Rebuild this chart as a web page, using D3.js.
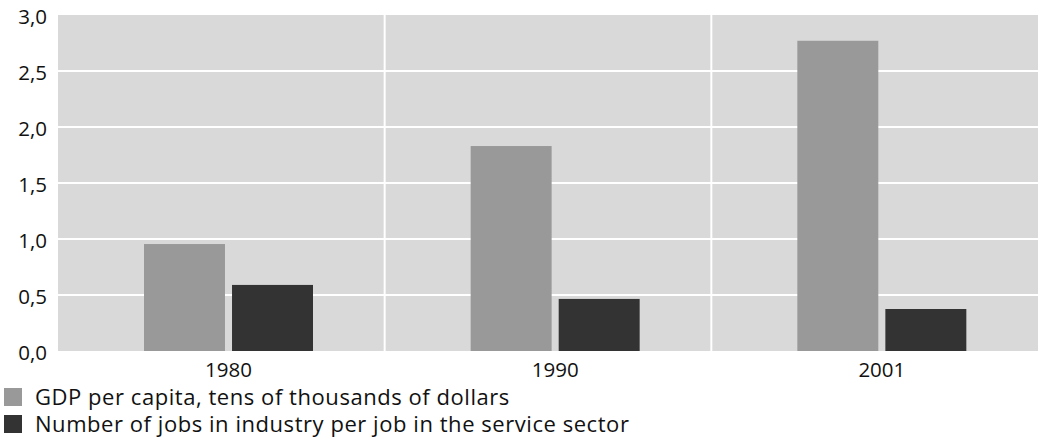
<!DOCTYPE html>
<html>
<head>
<meta charset="utf-8">
<script src="https://cdn.jsdelivr.net/npm/d3@7"></script>
<style>
  body { margin: 0; background: #fff; }
  text { font-family: "Open Sans", sans-serif; fill: #111; }
</style>
</head>
<body>
<svg width="1038" height="438"></svg>
<script>
const years = ["1980", "1990", "2001"];
const seriesNames = ["GDP per capita, tens of thousands of dollars",
                     "Number of jobs in industry per job in the service sector"];
const gdp = [0.955, 1.83, 2.77];
const jobs = [0.59, 0.465, 0.375];
const yTicks = [0, 0.5, 1, 1.5, 2, 2.5, 3];
const colors = ["#999999", "#333333"];

const svg = d3.select("svg");
const margin = { left: 58, right: 0, top: 15, bottom: 87 };
const width = +svg.attr("width");
const height = +svg.attr("height");
const plotW = width - margin.left - margin.right;
const plotH = height - margin.top - margin.bottom;

const g = svg.append("g").attr("transform", `translate(${margin.left},${margin.top})`);

const x0 = d3.scaleBand().domain(years).range([0, plotW]);
// bars sit a bit right of band centre in the original
const x1 = d3.scaleBand().domain([0, 1]).range([86, 255]).paddingInner(0.08);
const y = d3.scaleLinear().domain([0, 3]).range([plotH, 0]);

g.append("rect").attr("width", plotW).attr("height", plotH).attr("fill", "#d9d9d9");

// grid
g.selectAll(".hgrid").data(yTicks.slice(1, -1)).enter().append("line")
  .attr("x1", 0).attr("x2", plotW)
  .attr("y1", d => y(d)).attr("y2", d => y(d))
  .attr("stroke", "#fff").attr("stroke-width", 2);
g.selectAll(".vgrid").data(years.slice(1)).enter().append("line")
  .attr("x1", d => x0(d)).attr("x2", d => x0(d))
  .attr("y1", 0).attr("y2", plotH)
  .attr("stroke", "#fff").attr("stroke-width", 2);

// bars
const rows = years.map((yr, i) => ({ year: yr, vals: [gdp[i], jobs[i]] }));
const grp = g.selectAll(".grp").data(rows).enter().append("g")
  .attr("transform", d => `translate(${x0(d.year)},0)`);
grp.selectAll("rect").data(d => d.vals).enter().append("rect")
  .attr("x", (d, i) => x1(i))
  .attr("width", x1.bandwidth())
  .attr("y", d => y(d))
  .attr("height", d => plotH - y(d))
  .attr("fill", (d, i) => colors[i]);

// x labels centred on the bar group
grp.append("text")
  .attr("x", (x1(0) + x1(1) + x1.bandwidth()) / 2)
  .attr("y", plotH + 26)
  .attr("text-anchor", "middle")
  .attr("font-size", 20.5)
  .text(d => d.year);

// y axis labels
const fmt = d3.formatLocale({ decimal: ",", thousands: " ", grouping: [3], currency: ["", ""] }).format(".1f");
g.selectAll(".ylab").data(yTicks).enter().append("text")
  .attr("x", -11)
  .attr("y", d => y(d))
  .attr("dy", "0.45em")
  .attr("text-anchor", "end")
  .attr("font-size", 20.5)
  .text(d => fmt(d));

// legend
const leg = svg.selectAll(".leg").data(seriesNames).enter().append("g")
  .attr("transform", (d, i) => `translate(4,${388 + i * 27})`);
leg.append("rect").attr("width", 18).attr("height", 18).attr("fill", (d, i) => colors[i]);
leg.append("text").attr("x", 31).attr("y", 17)
  .attr("font-size", 22).attr("letter-spacing", 0.55).text(d => d);
</script>
</body>
</html>
